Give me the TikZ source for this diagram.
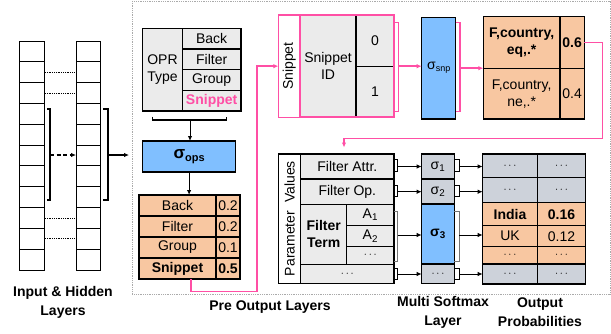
\documentclass[tikz,border=0pt]{standalone}
\usepackage{fontspec}
\setmainfont{Liberation Sans}
\usetikzlibrary{arrows.meta,calc}
\definecolor{cellgray}{HTML}{EBEBEB}
\definecolor{peach}{HTML}{F8C7A1}
\definecolor{sblue}{HTML}{80BFFF}
\definecolor{sgray}{HTML}{CDD2DA}
\definecolor{hpink}{HTML}{FF4FA5}
\definecolor{framegray}{HTML}{AAAAAA}
\newcommand{\fs}{\fontsize{14}{17}\selectfont}
\newcommand{\mkcell}[7]{\node[#1, minimum width={#5-#3}, minimum height={#6-#4}] (#2) at ({(#3+#5)/2},{(#4+#6)/2}) {#7};}
\newcommand{\dd}{{\fontsize{11}{11}\selectfont$\cdots$}}
\begin{document}
\begin{tikzpicture}[x=1pt,y=-1pt,
  cellbase/.style={draw, line width=1.1pt, inner sep=0pt, outer sep=0pt, align=center, font=\fs},
  gcell/.style={cellbase, fill=cellgray},
  pcell/.style={cellbase, fill=peach},
  scell/.style={cellbase, fill=sgray},
  bcell/.style={cellbase, fill=sblue},
  wcell/.style={cellbase, fill=white},
  wpcell/.style={cellbase, fill=white, draw=hpink, line width=1.3pt},
  lcell/.style={draw, line width=1pt, fill=white, inner sep=0pt, outer sep=0pt},
  brk/.style={line width=1pt},
  gbrk/.style={line width=1pt, draw=black!55},
  pbrk/.style={line width=1.5pt, draw=hpink},
  conn/.style={line width=1pt, -{Latex[length=5pt,width=4.5pt]}},
  pconn/.style={draw=hpink, line width=1.5pt, -{Latex[length=5pt,width=4.5pt]}},
  lbl/.style={font=\fontsize{14}{19}\selectfont\bfseries, align=center, inner sep=0pt}
]
\useasboundingbox (0,0) rectangle (611,333);
\fill[white] (0,0) rectangle (611,333);

% frame
\draw[framegray, densely dotted, line width=0.8pt] (132,1) rectangle (610,294);

% input & hidden layers
\foreach \i in {0,...,10} {
  \pgfmathsetmacro\ya{41+20.82*\i}
  \pgfmathsetmacro\yb{41+20.82*(\i+1)}
  \mkcell{lcell}{L\i}{19}{\ya}{44}{\yb}{}
  \mkcell{lcell}{H\i}{76}{\ya}{100}{\yb}{}
}
\foreach \i in {1,2,8,9} \draw[densely dotted, line width=0.8pt, shorten <=1pt, shorten >=1pt] (L\i.east) -- (H\i.west);
\draw[brk, line width=1.3pt] (47,109) -| (50,200) -- (47,200);
\coordinate (lbm) at (50,155);
\draw[conn, line width=1.4pt, dash pattern=on 4pt off 2.5pt] (lbm) -- (lbm -| H5.west);
\draw[brk, line width=1.3pt] (103,109) -| (108,200) -- (103,200);
\coordinate (rbm) at (108,155);
\coordinate (prein) at (129,155);
\draw[conn, line width=1.3pt] (rbm) -- (prein);

% OPR type table
\mkcell{gcell}{oprt}{142.7}{28.3}{182.3}{111}{OPR\\Type}
\mkcell{gcell}{oBack}{182.3}{28.3}{241}{49}{Back}
\mkcell{gcell}{oFilter}{182.3}{49}{241}{69.7}{Filter}
\mkcell{gcell}{oGroup}{182.3}{69.7}{241}{90.3}{Group}
\mkcell{gcell}{oSnip}{182.3}{90.3}{241}{111}{\textbf{\color{hpink}Snippet}}
\draw[brk, line width=1.3pt] (152.7,116.5) -- (152.7,120) -- (226.7,120) -- (226.7,116.5);
\coordinate (obm) at (190,120);

% sigma ops
\mkcell{bcell}{sops}{142.7}{141}{235.5}{172}{{\fontsize{17}{17}\selectfont\bfseries σ}\raisebox{-3pt}{\fontsize{11}{11}\selectfont\bfseries ops}}
\draw[conn] (obm) -- (obm |- sops.north);

% pre-output probability table
\mkcell{pcell}{pB}{139}{195}{216}{216}{Back}
\mkcell{pcell}{pBv}{216}{195}{240}{216}{0.2}
\mkcell{pcell}{pF}{139}{216}{216}{237}{Filter}
\mkcell{pcell}{pFv}{216}{216}{240}{237}{0.2}
\mkcell{pcell}{pG}{139}{237}{216}{258}{Group}
\mkcell{pcell}{pGv}{216}{237}{240}{258}{0.1}
\mkcell{pcell}{pS}{139}{258}{216}{279}{\textbf{Snippet}}
\mkcell{pcell}{pSv}{216}{258}{240}{279}{\textbf{0.5}}
\draw[conn] (sops.south) -- (sops.south |- pB.north);

% snippet tables
\mkcell{wpcell}{snl}{278.3}{15}{300}{117.3}{\rotatebox{90}{Snippet}}
\mkcell{gcell}{sid}{300}{15}{356}{117.3}{Snippet\\ID}
\mkcell{gcell}{sz}{356}{15}{394}{66.7}{0}
\mkcell{gcell}{so}{356}{66.7}{394}{117.3}{1}
\draw[hpink, line width=1.8pt] (sid.north west) rectangle (so.south east);
\draw[pconn] ($(sops.south |- pS.south)+(2,0)$) -- ++(0,12.7) -| ($(snl.west)+(-21.3,0)$) -- (snl.west);

\draw[pbrk] (394,22.7) -| (398.3,111.7) -- (394,111.7);
\coordinate (sbm) at (398.3,66.2);
\mkcell{bcell}{ssnp}{421.7}{17.3}{455.7}{119}{σ\raisebox{-2pt}{\fontsize{9}{9}\selectfont snp}}
\draw[pconn] (sbm) -- (sbm -| ssnp.west);
\draw[pbrk] (455.7,22.7) -| (460,111.7) -- (455.7,111.7);
\coordinate (ssm) at (460,68.2);

\mkcell{pcell}{oa}{483.3}{16.7}{560}{68.3}{\textbf{F,country,}\\\textbf{eq,.*}}
\mkcell{pcell}{oav}{560}{16.7}{584.3}{68.3}{\textbf{0.6}}
\mkcell{pcell}{ob}{483.3}{68.3}{560}{119}{F,country,\\ne,.*}
\mkcell{pcell}{obv}{560}{68.3}{584.3}{119}{0.4}
\draw[pconn] (ssm) -- (ssm -| oa.west);

\coordinate (pkc) at (344,138.3);
\coordinate (pkend) at (344,147.5);
\draw[pconn] (oav.east) -- ++(18,0) |- (pkc) -- (pkend);

% parameter values table
\mkcell{wcell}{pvl}{278.3}{154}{300.7}{283.3}{\rotatebox{90}{Parameter\ \ Values}}
\mkcell{gcell}{fa}{300.7}{154}{394}{179}{Filter Attr.}
\mkcell{gcell}{fo}{300.7}{179}{394}{204.3}{Filter Op.}
\mkcell{gcell}{ft}{300.7}{204.3}{346.7}{264.3}{\textbf{Filter}\\\textbf{Term}}
\mkcell{gcell}{a1}{346.7}{204.3}{394}{225.7}{A\textsubscript{1}}
\mkcell{gcell}{a2}{346.7}{225.7}{394}{246.7}{A\textsubscript{2}}
\mkcell{gcell}{ad}{346.7}{246.7}{394}{264.3}{\dd}
\mkcell{gcell}{pd}{300.7}{264.3}{394}{283.3}{\dd}

% softmax column
\mkcell{scell}{s1}{421.7}{154}{454.3}{179}{σ\textsubscript{1}}
\mkcell{scell}{s2}{421.7}{179}{454.3}{204}{σ\textsubscript{2}}
\mkcell{bcell}{s3}{421.7}{204}{454.3}{264}{\textbf{σ\textsubscript{3}}}
\mkcell{scell}{sd}{421.7}{264}{454.3}{283.3}{\dd}

% output table
\mkcell{scell}{r1a}{482.7}{154}{537.3}{177.7}{\dd}
\mkcell{scell}{r1b}{537.3}{154}{585.7}{177.7}{\dd}
\mkcell{scell}{r2a}{482.7}{177.7}{537.3}{202.7}{\dd}
\mkcell{scell}{r2b}{537.3}{177.7}{585.7}{202.7}{\dd}
\mkcell{pcell}{r3a}{482.7}{202.7}{537.3}{225.7}{\textbf{India}}
\mkcell{pcell}{r3b}{537.3}{202.7}{585.7}{225.7}{\textbf{0.16}}
\mkcell{pcell}{r4a}{482.7}{225.7}{537.3}{246.7}{UK}
\mkcell{pcell}{r4b}{537.3}{225.7}{585.7}{246.7}{0.12}
\mkcell{pcell}{r5a}{482.7}{246.7}{537.3}{264}{\dd}
\mkcell{pcell}{r5b}{537.3}{246.7}{585.7}{264}{\dd}
\mkcell{scell}{r6a}{482.7}{264}{537.3}{284}{\dd}
\mkcell{scell}{r6b}{537.3}{264}{585.7}{284}{\dd}

% brackets and arrows: parameter -> softmax
\draw[brk] (394,159.3) -| (397.7,171) -- (394,171);
\draw[brk] (394,185.3) -| (397.7,196.5) -- (394,196.5);
\draw[gbrk] (394,211.7) -| (397.7,261.7) -- (394,261.7);
\draw[brk] (394,268.3) -| (397.7,279.3) -- (394,279.3);
\coordinate (b1) at (397.7,166.5);
\coordinate (b2) at (397.7,191.7);
\coordinate (b3) at (397.7,235);
\coordinate (b4) at (397.7,274);
\draw[conn] (b1) -- (b1 -| s1.west);
\draw[conn] (b2) -- (b2 -| s2.west);
\draw[conn] (b3) -- (b3 -| s3.west);
\draw[conn] (b4) -- (b4 -| sd.west);

% softmax -> output
\draw[brk] (454.3,159.3) -| (459,171) -- (454.3,171);
\draw[brk] (454.3,185.3) -| (459,196.5) -- (454.3,196.5);
\draw[gbrk] (454.3,211.7) -| (459,261.7) -- (454.3,261.7);
\draw[brk] (454.3,268.3) -| (459,279.3) -- (454.3,279.3);
\coordinate (c1) at (459,166.5);
\coordinate (c2) at (459,191.7);
\coordinate (c3) at (459,235);
\coordinate (c4) at (459,274);
\draw[conn] (c1) -- (c1 -| r1a.west);
\draw[conn] (c2) -- (c2 -| r2a.west);
\draw[conn] (c3) -- (c3 -| r4a.west);
\draw[conn] (c4) -- (c4 -| r6a.west);

% labels
\node[lbl] (lin) at (63,302) {Input \& Hidden\\Layers};
\node[lbl] (lpre) at (270,307) {Pre Output Layers};
\node[lbl] (lms) at (443,312.5) {Multi Softmax\\Layer};
\node[lbl] (lop) at (540,312.5) {Output\\Probabilities};
\end{tikzpicture}
\end{document}
